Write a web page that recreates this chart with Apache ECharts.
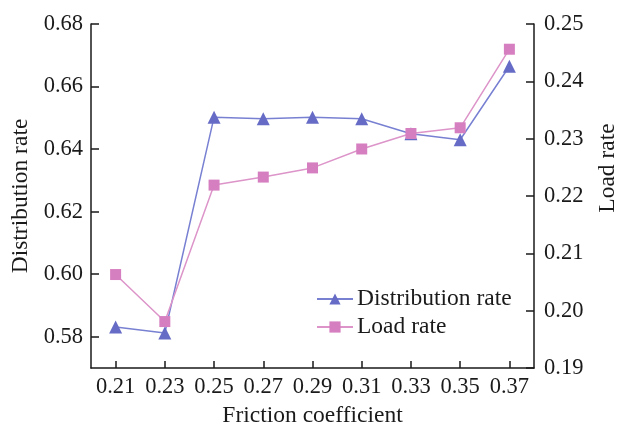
<!DOCTYPE html>
<html>
<head>
<meta charset="utf-8">
<script src="https://cdn.jsdelivr.net/npm/echarts@6/dist/echarts.min.js"></script>
<style>
  html, body { margin: 0; padding: 0; background: #ffffff; }
  #chart { width: 618px; height: 423px; }
</style>
</head>
<body>
<div id="chart"></div>
<script>
// Friction coefficient categories along the x axis
const frictionCoef = ['0.21', '0.23', '0.25', '0.27', '0.29', '0.31', '0.33', '0.35', '0.37'];
// Distribution rate (left axis)
const distributionRate = [0.5831, 0.5812, 0.6502, 0.6497, 0.6502, 0.6497, 0.6449, 0.6430, 0.6665];
// Load rate (right axis)
const loadRate = [0.2063, 0.1981, 0.2219, 0.2233, 0.2249, 0.2282, 0.2309, 0.2319, 0.2456];
// Tick values shown on the left axis
const leftTicks = [0.58, 0.60, 0.62, 0.64, 0.66, 0.68];

const FONT = '"Liberation Serif", "Times New Roman", serif';
const INK = '#1a1a1a';
const BLUE = '#666cc6';
const PINK = '#d67fc0';

const chart = echarts.init(document.getElementById('chart'), null, { renderer: 'canvas' });

const axisLine = { show: true, lineStyle: { color: INK, width: 1.5 } };
const axisTick = { show: true, inside: true, length: 8, lineStyle: { color: INK, width: 1.5 } };
const tickText = { color: INK, fontFamily: FONT, fontSize: 22.5 };
const nameText = { color: INK, fontFamily: FONT, fontSize: 23.5 };

chart.setOption({
  animation: false,
  backgroundColor: '#ffffff',
  grid: { left: 91, right: 84, top: 24, bottom: 55, outerBoundsMode: 'none', containLabel: false },
  legend: {
    left: 311,
    top: 282,
    orient: 'vertical',
    itemWidth: 36,
    itemHeight: 14,
    itemGap: 4,
    textStyle: { color: INK, fontFamily: FONT, fontSize: 23.5, lineHeight: 24, padding: [0, 0, 0, -1] },
    data: ['Distribution rate', 'Load rate']
  },
  xAxis: {
    type: 'category',
    data: frictionCoef,
    boundaryGap: true,
    name: 'Friction coefficient',
    nameLocation: 'middle',
    nameGap: 18,
    nameTextStyle: nameText,
    axisLine: axisLine,
    axisTick: { show: true, inside: true, length: 7, alignWithLabel: true, lineStyle: { color: INK, width: 1.5 } },
    axisLabel: Object.assign({ margin: 8, interval: 0 }, tickText),
    splitLine: { show: false }
  },
  yAxis: [
    {
      type: 'value',
      min: 0.57,
      max: 0.68,
      name: 'Distribution rate',
      nameLocation: 'middle',
      nameGap: 58,
      nameTextStyle: nameText,
      axisLine: axisLine,
      axisTick: Object.assign({ customValues: leftTicks }, axisTick),
      axisLabel: Object.assign({ customValues: leftTicks, margin: 8, formatter: v => v.toFixed(2) }, tickText),
      splitLine: { show: false }
    },
    {
      type: 'value',
      min: 0.19,
      max: 0.25,
      interval: 0.01,
      position: 'right',
      name: 'Load rate',
      nameLocation: 'middle',
      nameGap: 62,
      nameRotate: 90,
      nameTextStyle: Object.assign({ padding: [0, 0, 0, 56] }, nameText),
      axisLine: axisLine,
      axisTick: axisTick,
      axisLabel: Object.assign({ margin: 10, formatter: v => v.toFixed(2) }, tickText),
      splitLine: { show: false }
    }
  ],
  series: [
    {
      name: 'Distribution rate',
      type: 'line',
      yAxisIndex: 0,
      data: distributionRate,
      symbol: 'triangle',
      symbolSize: 13,
      itemStyle: { color: BLUE },
      lineStyle: { color: '#7880d2', width: 1.5 }
    },
    {
      name: 'Load rate',
      type: 'line',
      yAxisIndex: 1,
      data: loadRate,
      symbol: 'rect',
      symbolSize: 11,
      itemStyle: { color: PINK },
      lineStyle: { color: '#dc94c9', width: 1.5 }
    }
  ]
});
</script>
</body>
</html>
